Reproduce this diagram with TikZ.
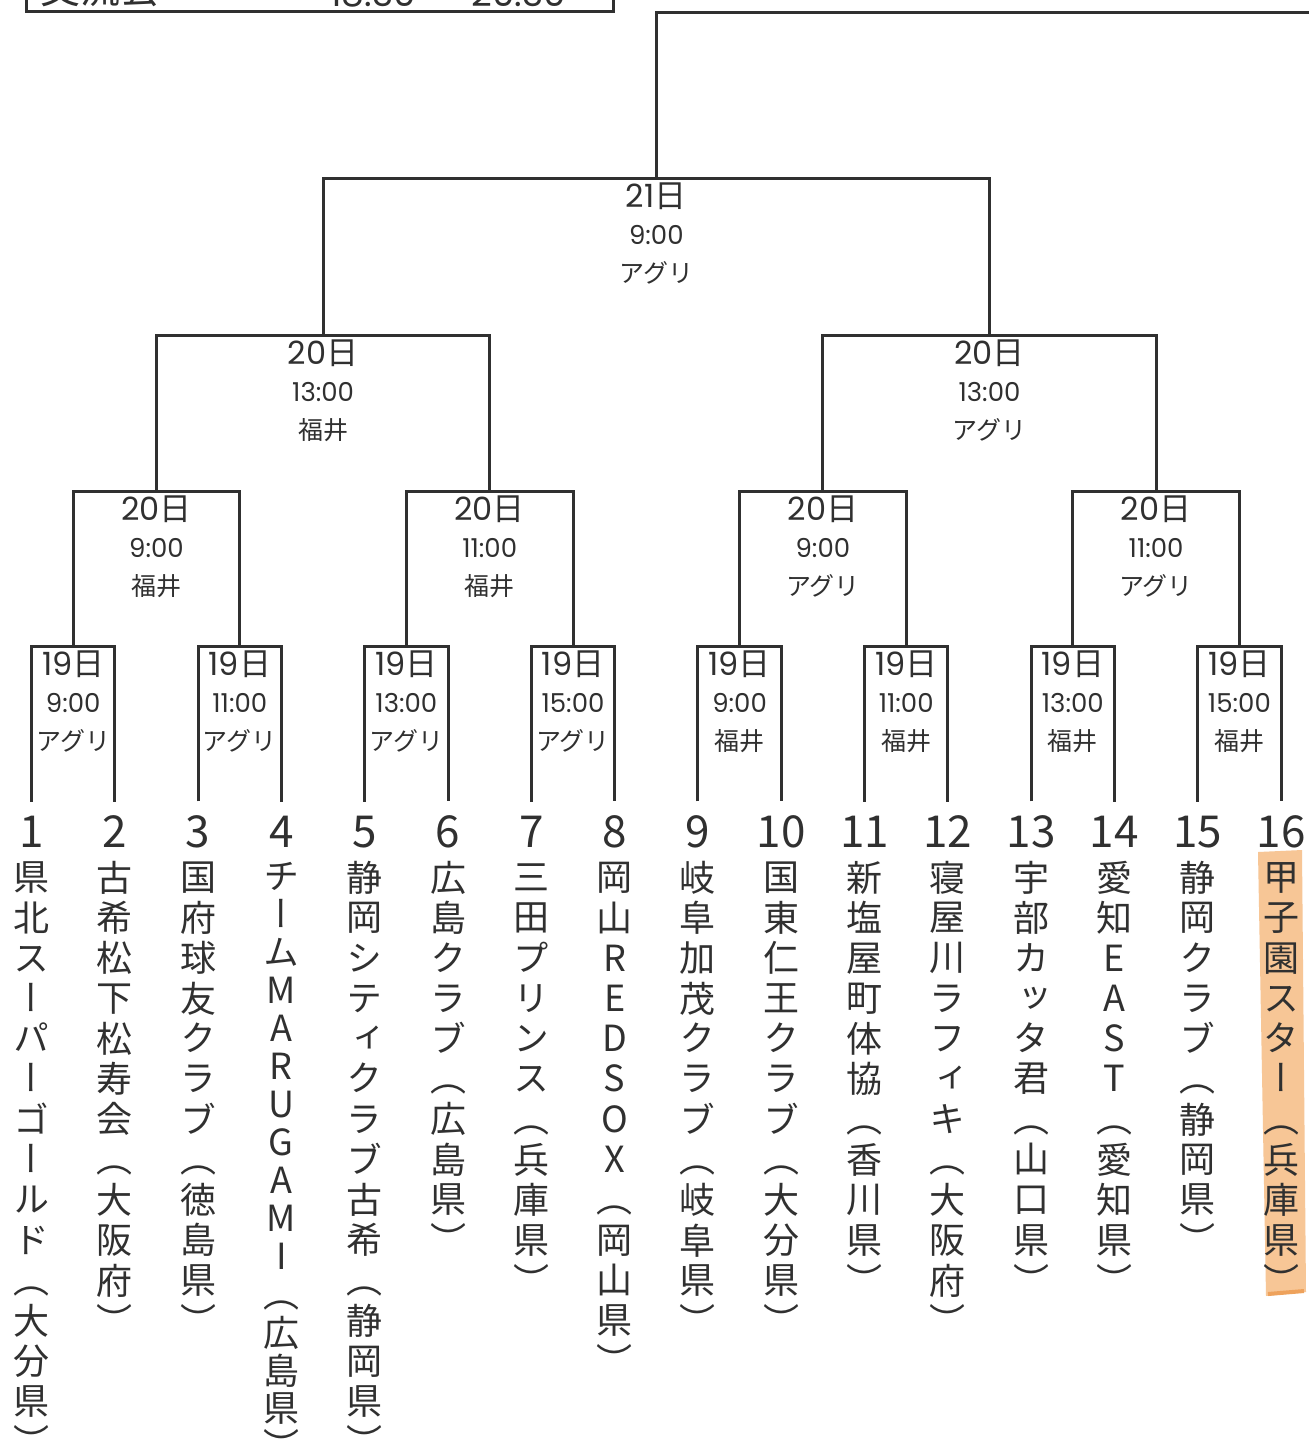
\documentclass[tikz,border=0pt]{standalone}
\usepackage{fontspec}
\setmainfont{Noto Sans CJK JP}
\newfontfamily\jpv{Noto Sans CJK JP}[RawFeature=+vert]
\newfontfamily\geo{Poppins}
\definecolor{ink}{RGB}{48,48,48}
\definecolor{marker}{RGB}{247,198,150}
\definecolor{markeredge}{RGB}{238,162,92}
\newcommand{\vsend}{}
\newcommand{\vpitch}{20.15pt}
\newcommand{\vcell}[1]{\hbox to 24pt{\hss\vbox to \vpitch{\vss\hbox{\vphantom{国}#1}\vss}\hss}}
\def\vstackA#1{\ifx\vsend#1\else\vcell{#1}\expandafter\vstackA\fi}
\newcommand{\vstack}[2][20.15pt]{\vbox{\offinterlineskip\renewcommand{\vpitch}{#1}\vstackA#2\vsend}}
\newcommand{\matchAt}[6]{%
  \coordinate (#1) at (#2,#3);
  \node[daylbl] (#1day) at (#2,#3+18) {{\geo #4}日};
  \node[timelbl] (#1time) at (#2,#3+57) {#5};
  \node[venuelbl] (#1venue) at (#2,#3+95) {#6};}

\begin{document}
\begin{tikzpicture}[x=0.5pt,y=-0.5pt,
    bracket/.style={draw=ink,line width=1.5pt},
    daylbl/.style={text=ink,inner sep=0pt,font=\fontsize{16}{18}\selectfont},
    timelbl/.style={text=ink,inner sep=0pt,font=\geo\fontsize{13}{15}\selectfont},
    venuelbl/.style={text=ink,inner sep=0pt,font=\fontsize{12.5}{14}\selectfont},
    numlbl/.style={text=ink,inner xsep=0pt,inner ysep=7pt,font=\fontsize{22}{24}\selectfont},
    namelbl/.style={anchor=north,inner sep=0pt,text=ink,font=\jpv\fontsize{18}{20}\selectfont},
    partylbl/.style={anchor=base west,inner sep=0pt,text=ink,font=\fontsize{20}{22}\selectfont}]
	\useasboundingbox (0,0) rectangle (1309,1442);
	\clip (0,0) rectangle (1309,1442);
	\fill[white] (0,0) rectangle (1309,1442);

	\fill[marker] (1258,852) -- (1302,850) -- (1306,1292) -- (1266,1296) -- cycle;
	\draw[markeredge,line width=2pt] (1268,1294) -- (1304,1291);

	\draw[bracket] (26,-40) rectangle (613,11);
	\node[partylbl] (party) at (40,3) {交流会};
	\node[partylbl,font=\geo\fontsize{18}{20}\selectfont] (partytime) at (330,6) {18:30 {\rmfamily 〜} 20:30};

	\node[numlbl] (n1) at (31.5,832) {1};
	\node[numlbl] (n2) at (114.8,832) {2};
	\node[numlbl] (n3) at (198.1,832) {3};
	\node[numlbl] (n4) at (281.4,832) {4};
	\node[numlbl] (n5) at (364.7,832) {5};
	\node[numlbl] (n6) at (448.0,832) {6};
	\node[numlbl] (n7) at (531.3,832) {7};
	\node[numlbl] (n8) at (614.6,832) {8};
	\node[numlbl] (n9) at (697.9,832) {9};
	\node[numlbl] (n10) at (781.2,832) {10};
	\node[numlbl] (n11) at (864.5,832) {11};
	\node[numlbl] (n12) at (947.8,832) {12};
	\node[numlbl] (n13) at (1031.1,832) {13};
	\node[numlbl] (n14) at (1114.4,832) {14};
	\node[numlbl] (n15) at (1197.7,832) {15};
	\node[numlbl] (n16) at (1281.0,832) {16};

	\node[namelbl] (team1) at (31.5,857) {\vstack{県北スーパーゴールド（大分県）}};
	\node[namelbl] (team2) at (114.8,857) {\vstack{古希松下松寿会（大阪府）}};
	\node[namelbl] (team3) at (198.1,857) {\vstack{国府球友クラブ（徳島県）}};
	\node[namelbl] (team4) at (281.4,857) {\vstack[19pt]{チームMARUGAMI（広島県）}};
	\node[namelbl] (team5) at (364.7,857) {\vstack{静岡シティクラブ古希（静岡県）}};
	\node[namelbl] (team6) at (448.0,857) {\vstack{広島クラブ（広島県）}};
	\node[namelbl] (team7) at (531.3,857) {\vstack{三田プリンス（兵庫県）}};
	\node[namelbl] (team8) at (614.6,857) {\vstack{岡山REDSOX（岡山県）}};
	\node[namelbl] (team9) at (697.9,857) {\vstack{岐阜加茂クラブ（岐阜県）}};
	\node[namelbl] (team10) at (781.2,857) {\vstack{国東仁王クラブ（大分県）}};
	\node[namelbl] (team11) at (864.5,857) {\vstack{新塩屋町体協（香川県）}};
	\node[namelbl] (team12) at (947.8,857) {\vstack{寝屋川ラフィキ（大阪府）}};
	\node[namelbl] (team13) at (1031.1,857) {\vstack{宇部カッタ君（山口県）}};
	\node[namelbl] (team14) at (1114.4,857) {\vstack{愛知EAST（愛知県）}};
	\node[namelbl] (team15) at (1197.7,857) {\vstack{静岡クラブ（静岡県）}};
	\node[namelbl] (team16) at (1281.0,857) {\vstack{甲子園スター（兵庫県）}};

	\matchAt{f1}{73.2}{646}{19}{9:00}{アグリ}
	\matchAt{f2}{239.8}{646}{19}{11:00}{アグリ}
	\matchAt{f3}{406.4}{646}{19}{13:00}{アグリ}
	\matchAt{f4}{573.0}{646}{19}{15:00}{アグリ}
	\matchAt{f5}{739.6}{646}{19}{9:00}{福井}
	\matchAt{f6}{906.2}{646}{19}{11:00}{福井}
	\matchAt{f7}{1072.8}{646}{19}{13:00}{福井}
	\matchAt{f8}{1239.4}{646}{19}{15:00}{福井}
	\matchAt{q1}{156.5}{491}{20}{9:00}{福井}
	\matchAt{q2}{489.7}{491}{20}{11:00}{福井}
	\matchAt{q3}{822.9}{491}{20}{9:00}{アグリ}
	\matchAt{q4}{1156.1}{491}{20}{11:00}{アグリ}
	\matchAt{s1}{323.1}{335}{20}{13:00}{福井}
	\matchAt{s2}{989.5}{335}{20}{13:00}{アグリ}
	\matchAt{fin}{656.3}{178}{21}{9:00}{アグリ}
	\coordinate (champ) at (1320,12);

	\begin{scope}[bracket]
		\draw (n1.north) |- (f1) -| (n2.north);
		\draw (n3.north) |- (f2) -| (n4.north);
		\draw (n5.north) |- (f3) -| (n6.north);
		\draw (n7.north) |- (f4) -| (n8.north);
		\draw (n9.north) |- (f5) -| (n10.north);
		\draw (n11.north) |- (f6) -| (n12.north);
		\draw (n13.north) |- (f7) -| (n14.north);
		\draw (n15.north) |- (f8) -| (n16.north);
		\draw (f1) |- (q1) -| (f2);
		\draw (f3) |- (q2) -| (f4);
		\draw (f5) |- (q3) -| (f6);
		\draw (f7) |- (q4) -| (f8);
		\draw (q1) |- (s1) -| (q2);
		\draw (q3) |- (s2) -| (q4);
		\draw (s1) |- (fin) -| (s2);
		\draw (fin) |- (champ);
	\end{scope}
\end{tikzpicture}
\end{document}
